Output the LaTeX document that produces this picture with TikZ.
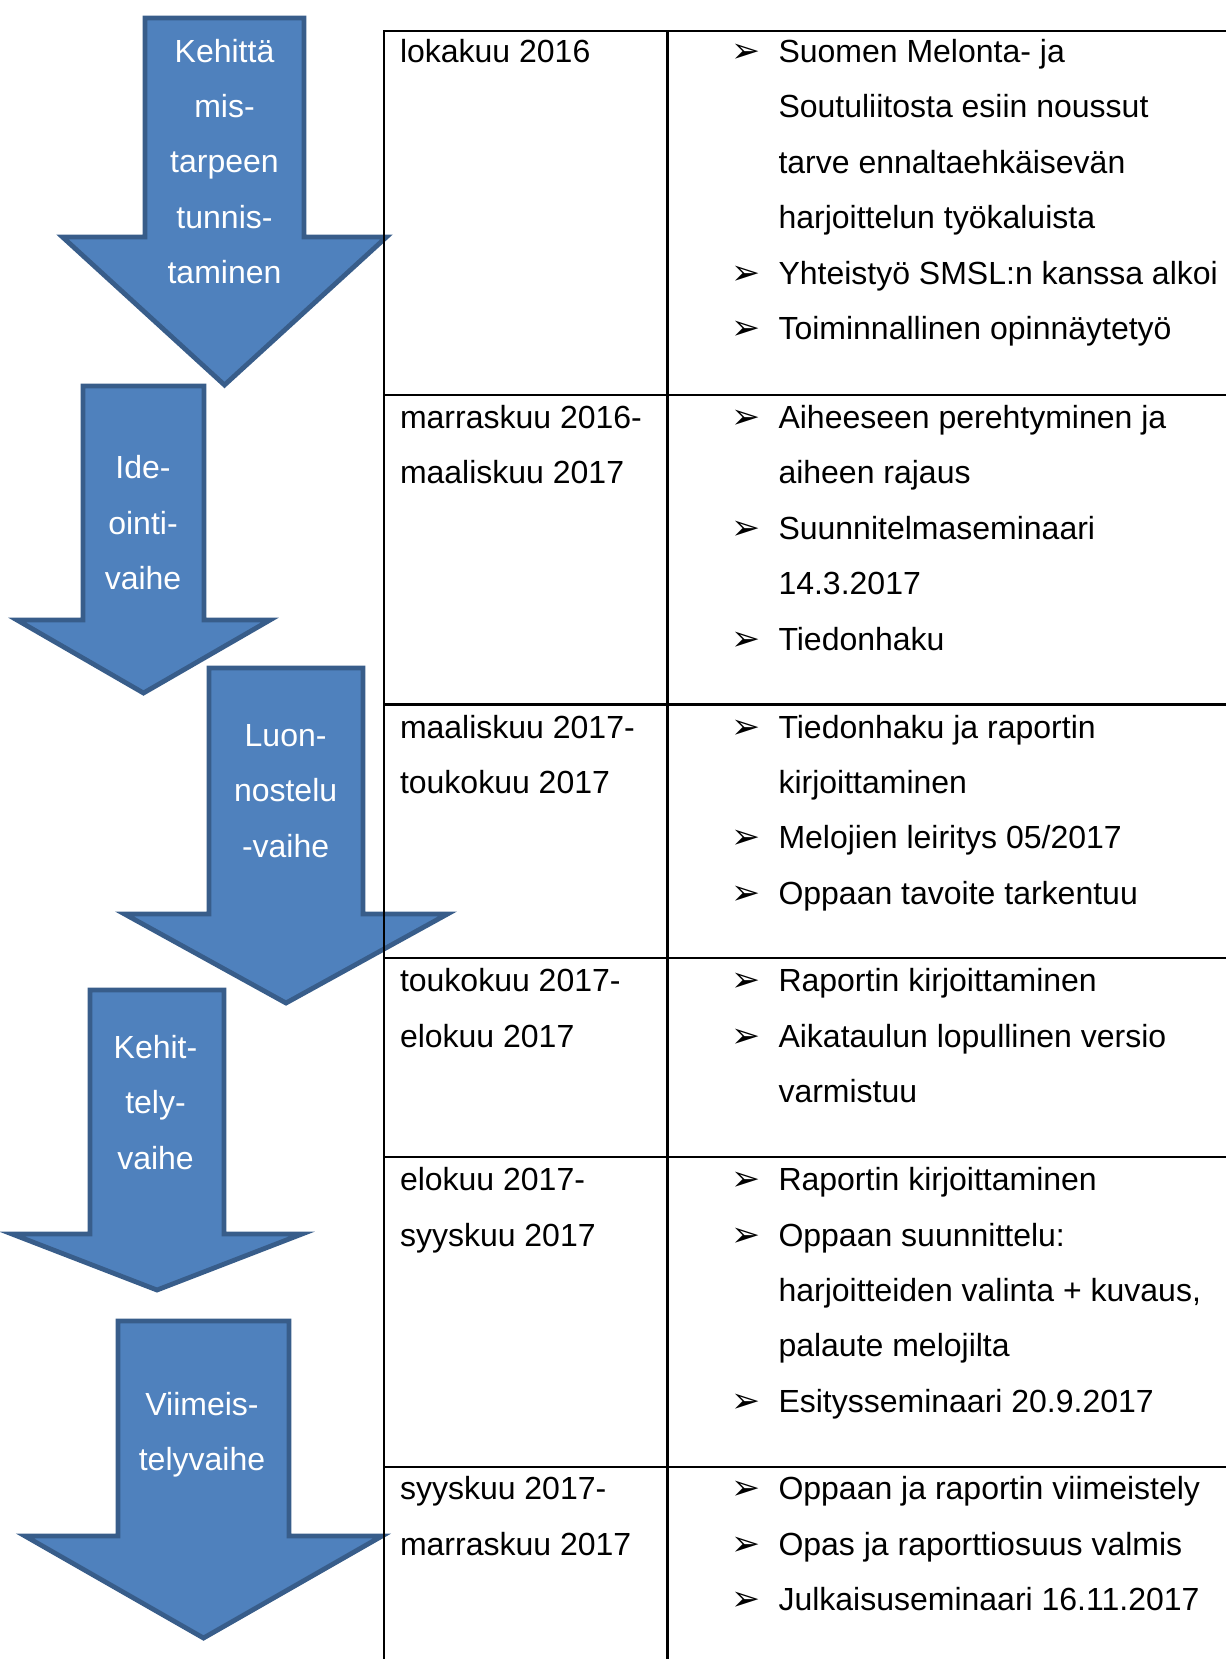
\documentclass[tikz,border=0pt]{standalone}
\usepackage{fontspec}
\setmainfont{Liberation Sans}
\newfontfamily\bulletfont{DejaVu Sans}
\definecolor{arrowfill}{HTML}{4F81BD}
\definecolor{arrowline}{HTML}{385D8A}
\newcommand{\blockarrow}[7]{% cx, shaft half, top, shoulder, head half, tip
  \filldraw[arrowshape] (#1-#2,#3) -- (#1+#2,#3) -- (#1+#2,#4) -- (#1+#5,#4)
    -- (#1,#6) -- (#1-#5,#4) -- (#1-#2,#4) -- cycle;}
\tikzset{
  arrowshape/.style={fill=arrowfill, draw=arrowline, line width=1.8pt, line join=miter},
  txt/.style={inner sep=0pt, outer sep=0pt, yshift=-0.9pt, font=\fontsize{12pt}{20.8pt}\selectfont, anchor=base west},
  atxt/.style={inner sep=0pt, outer sep=0pt, yshift=-0.9pt, font=\fontsize{12pt}{20.8pt}\selectfont, anchor=base, text=white},
  bul/.style={inner sep=0pt, outer sep=0pt, yshift=-0.9pt, font=\bulletfont\fontsize{13pt}{14pt}\selectfont, anchor=base west},
  grid/.style={line width=0.8pt, draw=black}
}
\begin{document}
\begin{tikzpicture}[x=0.375pt, y=-0.375pt]
\useasboundingbox (0,0) rectangle (1226,1659);
\clip (0,0) rectangle (1226,1659);
% arrows
\blockarrow{224.5}{79.5}{18}{237}{162}{385}{}
\blockarrow{143.5}{60.5}{386}{620}{126.5}{693}{}
\blockarrow{286}{77}{668}{914}{161.5}{1003}{}
\blockarrow{157}{67}{990}{1234}{145}{1290}{}
\blockarrow{203.5}{85.5}{1321}{1536}{178.5}{1638}{}
% arrow texts
\foreach \t [count=\i from 0] in {Kehittä, mis-, tarpeen, tunnis-, taminen}
  \node[atxt] (a1t\i) at (224.5, 60+\i*55.3) {\t};
\foreach \t [count=\i from 0] in {Ide-, ointi-, vaihe}
  \node[atxt] (a2t\i) at (143, 476.5+\i*55.3) {\t};
\foreach \t [count=\i from 0] in {Luon-, nostelu, -vaihe}
  \node[atxt] (a3t\i) at (285.6, 744+\i*55.3) {\t};
\foreach \t [count=\i from 0] in {Kehit-, tely-, vaihe}
  \node[atxt] (a4t\i) at (155.5, 1056+\i*55.3) {\t};
\foreach \t [count=\i from 0] in {Viimeis-, telyvaihe}
  \node[atxt] (a5t\i) at (202, 1412.6+\i*55.3) {\t};
% table grid
\coordinate (tl) at (384,31);
\draw[grid] (1226,31) -- (tl) -- (384,1659);
\draw[grid] (667.5,31) -- (667.5,1659);
\foreach \y in {394.6, 704.5, 958.4, 1157.3, 1467.2}
  \draw[grid] (384,\y) -- (1226,\y);
% left column
\node[txt] (d1a) at (400,60) {lokakuu 2016};
\foreach \t [count=\i from 0] in {marraskuu 2016-, maaliskuu 2017}
  \node[txt] (d2\i) at (400, 426+\i*55.4) {\t};
\foreach \t [count=\i from 0] in {maaliskuu 2017-, toukokuu 2017}
  \node[txt] (d3\i) at (400, 735.6+\i*55.4) {\t};
\foreach \t [count=\i from 0] in {toukokuu 2017-, elokuu 2017}
  \node[txt] (d4\i) at (400, 989.5+\i*55.4) {\t};
\foreach \t [count=\i from 0] in {elokuu 2017-, syyskuu 2017}
  \node[txt] (d5\i) at (400, 1188.3+\i*55.4) {\t};
\foreach \t [count=\i from 0] in {syyskuu 2017-, marraskuu 2017}
  \node[txt] (d6\i) at (400, 1497.2+\i*55.4) {\t};
% right column
\foreach \t [count=\i from 0] in {Suomen Melonta- ja, Soutuliitosta esiin noussut, tarve ennaltaehkäisevän, harjoittelun työkaluista, Yhteistyö SMSL:n kanssa alkoi, Toiminnallinen opinnäytetyö}
  \node[txt] (r1t\i) at (778.5, 60+\i*55.4) {\t};
\foreach \i in {0,4,5} \node[bul] (r1b\i) at (731, 60+\i*55.4) {➢};
\foreach \t [count=\i from 0] in {Aiheeseen perehtyminen ja, aiheen rajaus, Suunnitelmaseminaari, 14.3.2017, Tiedonhaku}
  \node[txt] (r2t\i) at (778.5, 426+\i*55.4) {\t};
\foreach \i in {0,2,4} \node[bul] (r2b\i) at (731, 426+\i*55.4) {➢};
\foreach \t [count=\i from 0] in {Tiedonhaku ja raportin, kirjoittaminen, Melojien leiritys 05/2017, Oppaan tavoite tarkentuu}
  \node[txt] (r3t\i) at (778.5, 735.6+\i*55.4) {\t};
\foreach \i in {0,2,3} \node[bul] (r3b\i) at (731, 735.6+\i*55.4) {➢};
\foreach \t [count=\i from 0] in {Raportin kirjoittaminen, Aikataulun lopullinen versio, varmistuu}
  \node[txt] (r4t\i) at (778.5, 989.5+\i*55.4) {\t};
\foreach \i in {0,1} \node[bul] (r4b\i) at (731, 989.5+\i*55.4) {➢};
\foreach \t [count=\i from 0] in {Raportin kirjoittaminen, Oppaan suunnittelu:, {harjoitteiden valinta + kuvaus,}, palaute melojilta, Esitysseminaari 20.9.2017}
  \node[txt] (r5t\i) at (778.5, 1188.3+\i*55.4) {\t};
\foreach \i in {0,1,4} \node[bul] (r5b\i) at (731, 1188.3+\i*55.4) {➢};
\foreach \t [count=\i from 0] in {Oppaan ja raportin viimeistely, Opas ja raporttiosuus valmis, Julkaisuseminaari 16.11.2017}
  \node[txt] (r6t\i) at (778.5, 1497.2+\i*55.4) {\t};
\foreach \i in {0,1,2} \node[bul] (r6b\i) at (731, 1497.2+\i*55.4) {➢};
\end{tikzpicture}
\end{document}
